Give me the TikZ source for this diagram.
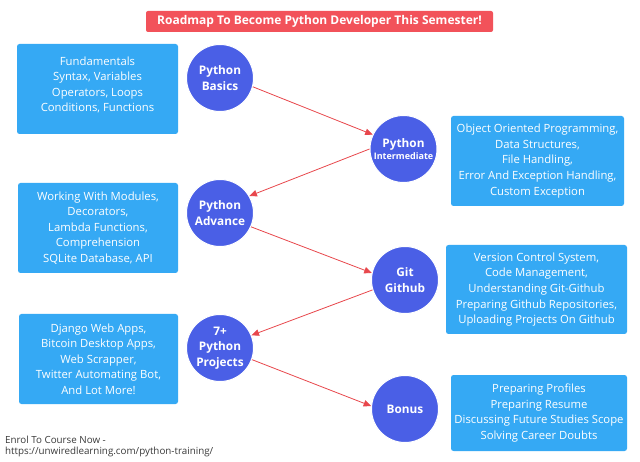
\documentclass[tikz,border=0pt]{standalone}
\usepackage{fontspec}
\setmainfont{Open Sans}
\usetikzlibrary{arrows.meta}
\definecolor{boxblue}{HTML}{35A9F4}
\definecolor{circblue}{HTML}{4A5FE6}
\definecolor{titlered}{HTML}{F2525A}
\definecolor{arrred}{HTML}{E8474C}
\definecolor{foot}{HTML}{3A3A3A}
\begin{document}
\begin{tikzpicture}[x=1pt,y=-1pt,
  infobox/.style={fill=boxblue, rounded corners=2.5pt, text=white, align=center,
    font=\fontsize{11.3}{15.6}\selectfont, inner sep=0pt},
  stage/.style={circle, fill=circblue, draw=white, line width=1pt, minimum size=67pt,
    inner sep=0pt, text=white, align=center, font=\bfseries\fontsize{11.8}{15.5}\selectfont},
  flow/.style={draw=arrred, line width=0.8pt, -{Triangle[length=7.5pt,width=6.5pt]}},
  foottext/.style={text=foot, anchor=north west, align=left, inner sep=0pt,
    font=\fontsize{9.8}{11}\selectfont}]
\useasboundingbox[fill=white] (0,0) rectangle (640,462);

% title
\node[fill=titlered, rounded corners=2pt, minimum width=347pt, minimum height=21pt,
  text=white, font=\bfseries\fontsize{12}{14}\selectfont, inner sep=0pt]
  (title) at (319.5,21.5) {Roadmap To Become Python Developer This Semester!};

% info boxes
\node[infobox, minimum width=161pt, minimum height=90pt] (b1) at (97.5,89) {};
\node[text=white, align=center, font=\fontsize{11.3}{15.6}\selectfont, inner sep=0pt]
  (b1t) at (97.5,85) {Fundamentals\\Syntax, Variables\\Operators, Loops\\Conditions, Functions};
\node[infobox, minimum width=173pt, minimum height=90pt] (b2) at (537.5,161)
  {Object Oriented Programming,\\Data Structures,\\File Handling,\\Error And Exception Handling,\\Custom Exception};
\node[infobox, minimum width=160pt, minimum height=90pt] (b3) at (98,228)
  {Working With Modules,\\Decorators,\\Lambda Functions,\\Comprehension\\SQLite Database, API};
\node[infobox, minimum width=181pt, minimum height=89pt] (b4) at (536.5,289.5)
  {Version Control System,\\Code Management,\\Understanding Git-Github\\Preparing Github Repositories,\\Uploading Projects On Github};
\node[infobox, minimum width=159pt, minimum height=90pt] (b5) at (98.5,359)
  {Django Web Apps,\\Bitcoin Desktop Apps,\\Web Scrapper,\\Twitter Automating Bot,\\And Lot More!};
\node[infobox, minimum width=176pt, minimum height=76pt] (b6) at (539,413)
  {Preparing Profiles\\Preparing Resume\\Discussing Future Studies Scope\\Solving Career Doubts};

% stages
\node[stage] (basics) at (220,78) {Python\\Basics};
\node[stage] (inter) at (403.5,149) {Python\\[-4pt]{\fontsize{9}{10}\selectfont Intermediate}};
\node[stage] (adv) at (220,213) {Python\\Advance};
\node[stage] (git) at (405,280) {Git\\Github};
\node[stage] (proj) at (220,348) {7+\\Python\\Projects};
\node[stage] (bonus) at (405,409) {Bonus};

% flow
\draw[flow] (basics.-15) -- (inter.155);
\draw[flow] (inter.180) -- (adv.30);
\draw[flow] (adv.-24) -- (git.168);
\draw[flow] (git.197) -- (proj.22);
\draw[flow] (proj.-20) -- (bonus.175);

% footer
\node[foottext] (foot) at (5,436) {Enrol To Course Now -\\https://unwiredlearning.com/python-training/};
\end{tikzpicture}
\end{document}
